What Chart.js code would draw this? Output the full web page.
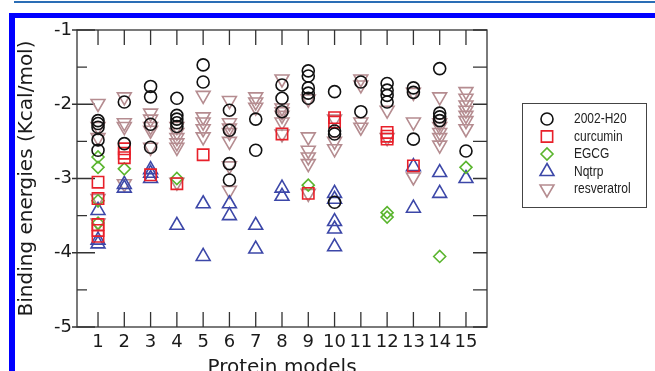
<!DOCTYPE html>
<html>
<head>
<meta charset="utf-8">
<script src="https://cdn.jsdelivr.net/npm/chart.js@4"></script>
<style>
  body { margin: 0; background: #fff; overflow: hidden; }
  .line { position: absolute; left: 14px; top: 1px; width: 641px; height: 2px; background: #2a6db5; }
  .top { position: absolute; left: 9px; top: 13px; width: 646px; height: 5px; background: #0000ff; }
  .left { position: absolute; left: 9px; top: 13px; width: 6px; height: 358px; background: #0000ff; }
  canvas { position: absolute; left: 0; top: 0; }
</style>
</head>
<body>
<div class="line"></div>
<div class="top"></div>
<div class="left"></div>
<canvas id="chart" width="655" height="380"></canvas>
<script>
// Protein models on the x axis
const models = [1, 2, 3, 4, 5, 6, 7, 8, 9, 10, 11, 12, 13, 14, 15];
const yTicks = [-1, -2, -3, -4, -5];

// binding energies per model, one list per model
const h2o = [
    [-2.22, -2.26, -2.31, -2.48, -2.62],
    [-1.97, -2.53],
    [-1.76, -1.9, -2.27, -2.58],
    [-1.92, -2.15, -2.2, -2.25, -2.3],
    [-1.47, -1.7],
    [-2.08, -2.35, -2.8, -3.02],
    [-2.2, -2.62],
    [-1.74, -1.92, -2.1],
    [-1.55, -1.62, -1.78, -1.85, -1.92],
    [-1.83, -2.36, -2.4, -3.32],
    [-1.7, -2.1],
    [-1.72, -1.81, -1.88, -1.97],
    [-1.78, -1.84, -2.47],
    [-1.52, -2.12, -2.17, -2.22],
    [-2.63]
];
const curcumin = [
    [-3.05, -3.27, -3.62, -3.7, -3.78],
    [-2.6, -2.66, -2.72],
    [-2.95],
    [-3.07],
    [-2.68],
    [],
    [],
    [-2.4],
    [-3.2],
    [-2.18, -2.24],
    [],
    [-2.38, -2.43, -2.47],
    [-2.83],
    [],
    []
];
const egcg = [
    [-2.71, -2.85, -3.3, -3.6],
    [-2.87],
    [],
    [-3.0],
    [],
    [],
    [],
    [],
    [-3.09],
    [],
    [],
    [-3.46, -3.52],
    [],
    [-4.05],
    [-2.85]
];
const nqtrp = [
    [-3.43, -3.83, -3.88],
    [-3.08, -3.13],
    [-2.88, -2.93, -3.0],
    [-3.63],
    [-3.34, -4.05],
    [-3.34, -3.5],
    [-3.63, -3.95],
    [-3.13, -3.24],
    [],
    [-3.2, -3.28, -3.58, -3.68, -3.92],
    [],
    [],
    [-2.84, -3.4],
    [-2.92, -3.2],
    [-3.0]
];
const resveratrol = [
    [-1.99, -2.3, -2.45, -3.27, -3.6],
    [-1.9, -2.25, -2.3, -3.07],
    [-2.12, -2.2, -2.3, -2.35, -2.58],
    [-2.3, -2.38, -2.45, -2.52, -2.58, -3.05],
    [-1.88, -2.17, -2.24, -2.33, -2.44],
    [-1.95, -2.25, -2.32, -2.38, -2.5, -2.83, -3.16],
    [-1.9, -1.97, -2.04],
    [-1.66, -2.05, -2.1, -2.15, -2.24, -2.4],
    [-1.93, -2.44, -2.62, -2.71, -2.8, -3.2],
    [-2.2, -2.5, -2.6],
    [-1.66, -1.74, -2.24, -2.31],
    [-2.08, -2.45],
    [-1.84, -2.24, -2.98],
    [-1.9, -2.25, -2.3, -2.38, -2.45, -2.55],
    [-1.83, -1.92, -2.01, -2.08, -2.15, -2.22, -2.33]
];

function toPoints(series) {
    const pts = [];
    series.forEach((vals, i) => vals.forEach(v => pts.push({ x: models[i], y: v })));
    return pts;
}

function ds(label, series, color, style, radius, rotation) {
    return {
        label: label,
        data: toPoints(series),
        borderColor: color,
        backgroundColor: 'rgba(0,0,0,0)',
        pointStyle: style,
        pointRadius: radius,
        pointHoverRadius: radius,
        pointRotation: rotation || 0,
        pointBorderWidth: 1.6,
        showLine: false
    };
}

const datasets = [
    ds('2002-H20', h2o, '#111111', 'circle', 6),
    ds('curcumin', curcumin, '#e8202a', 'rect', 8),
    ds('EGCG', egcg, '#5ab52e', 'rectRot', 6),
    ds('Nqtrp', nqtrp, '#3c47a8', 'triangle', 8),
    ds('resveratrol', resveratrol, '#b58c90', 'triangle', 8, 180)
];

// box, inner tick marks and the framed legend
const framePlugin = {
    id: 'frame',
    beforeDatasetsDraw(chart) {
        const { ctx, chartArea: a, scales: { x, y } } = chart;
        ctx.save();
        ctx.strokeStyle = '#333';
        ctx.lineWidth = 1.3;
        ctx.strokeRect(a.left, a.top, a.right - a.left, a.bottom - a.top);
        ctx.beginPath();
        models.forEach(m => {
            const px = x.getPixelForValue(m);
            ctx.moveTo(px, a.top); ctx.lineTo(px, a.top + 15);
            ctx.moveTo(px, a.bottom); ctx.lineTo(px, a.bottom - 15);
        });
        yTicks.forEach((v, i) => {
            const py = y.getPixelForValue(v);
            ctx.moveTo(a.left - 5, py); ctx.lineTo(a.left + 18, py);
            ctx.moveTo(a.right, py); ctx.lineTo(a.right - 14, py);
            if (i < yTicks.length - 1) {
                const pm = y.getPixelForValue(v - 0.5);
                ctx.moveTo(a.left, pm); ctx.lineTo(a.left + 10, pm);
                ctx.moveTo(a.right, pm); ctx.lineTo(a.right - 14, pm);
            }
        });
        ctx.stroke();
        ctx.restore();
    },
    afterDraw(chart) {
        const ctx = chart.ctx;
        ctx.save();
        ctx.strokeStyle = '#444';
        ctx.lineWidth = 1;
        ctx.strokeRect(522.5, 103.5, 124, 104);
        ctx.textBaseline = 'middle';
        chart.data.datasets.forEach((d, i) => {
            const yy = 119 + i * 17.5;
            ctx.strokeStyle = d.borderColor;
            ctx.fillStyle = 'rgba(0,0,0,0)';
            ctx.lineWidth = d.pointBorderWidth;
            Chart.helpers.drawPoint(ctx, {
                pointStyle: d.pointStyle,
                radius: d.pointRadius,
                rotation: d.pointRotation,
                borderWidth: d.pointBorderWidth
            }, 547, yy);
            // narrow legend lettering
            ctx.save();
            ctx.font = '15px "Liberation Sans", sans-serif';
            ctx.fillStyle = '#222';
            ctx.translate(574, yy);
            ctx.scale(0.8, 1);
            ctx.fillText(d.label, 0, 0);
            ctx.restore();
        });
        ctx.restore();
    }
};

const tickFont = { family: 'DejaVu Sans', size: 18 };
const titleFont = { family: 'DejaVu Sans', size: 20 };

new Chart(document.getElementById('chart'), {
    type: 'scatter',
    data: { datasets: datasets },
    options: {
        responsive: false,
        animation: false,
        layout: { padding: { left: 0, top: 30, right: 168, bottom: 0 } },
        plugins: { legend: { display: false }, tooltip: { enabled: false } },
        scales: {
            x: {
                type: 'linear',
                min: 0.2,
                max: 15.8,
                afterBuildTicks: s => { s.ticks = models.map(v => ({ value: v })); },
                afterFit: s => { s.height = 53; },
                grid: { display: false, drawTicks: false },
                border: { display: false },
                ticks: { font: tickFont, color: '#1a1a1a', padding: 5, maxRotation: 0, autoSkip: false },
                title: { display: true, text: 'Protein models', font: titleFont, color: '#1a1a1a', padding: { top: 0, bottom: 0 } }
            },
            y: {
                min: -5,
                max: -1,
                afterBuildTicks: s => { s.ticks = yTicks.map(v => ({ value: v })); },
                afterFit: s => { s.width = 77; },
                grid: { display: false, drawTicks: false },
                border: { display: false },
                ticks: { font: tickFont, color: '#1a1a1a', padding: 5 },
                title: { display: true, text: 'Binding energies (Kcal/mol)', font: titleFont, color: '#1a1a1a', padding: { top: 15, bottom: 0 } }
            }
        }
    },
    plugins: [framePlugin]
});
</script>
</body>
</html>
